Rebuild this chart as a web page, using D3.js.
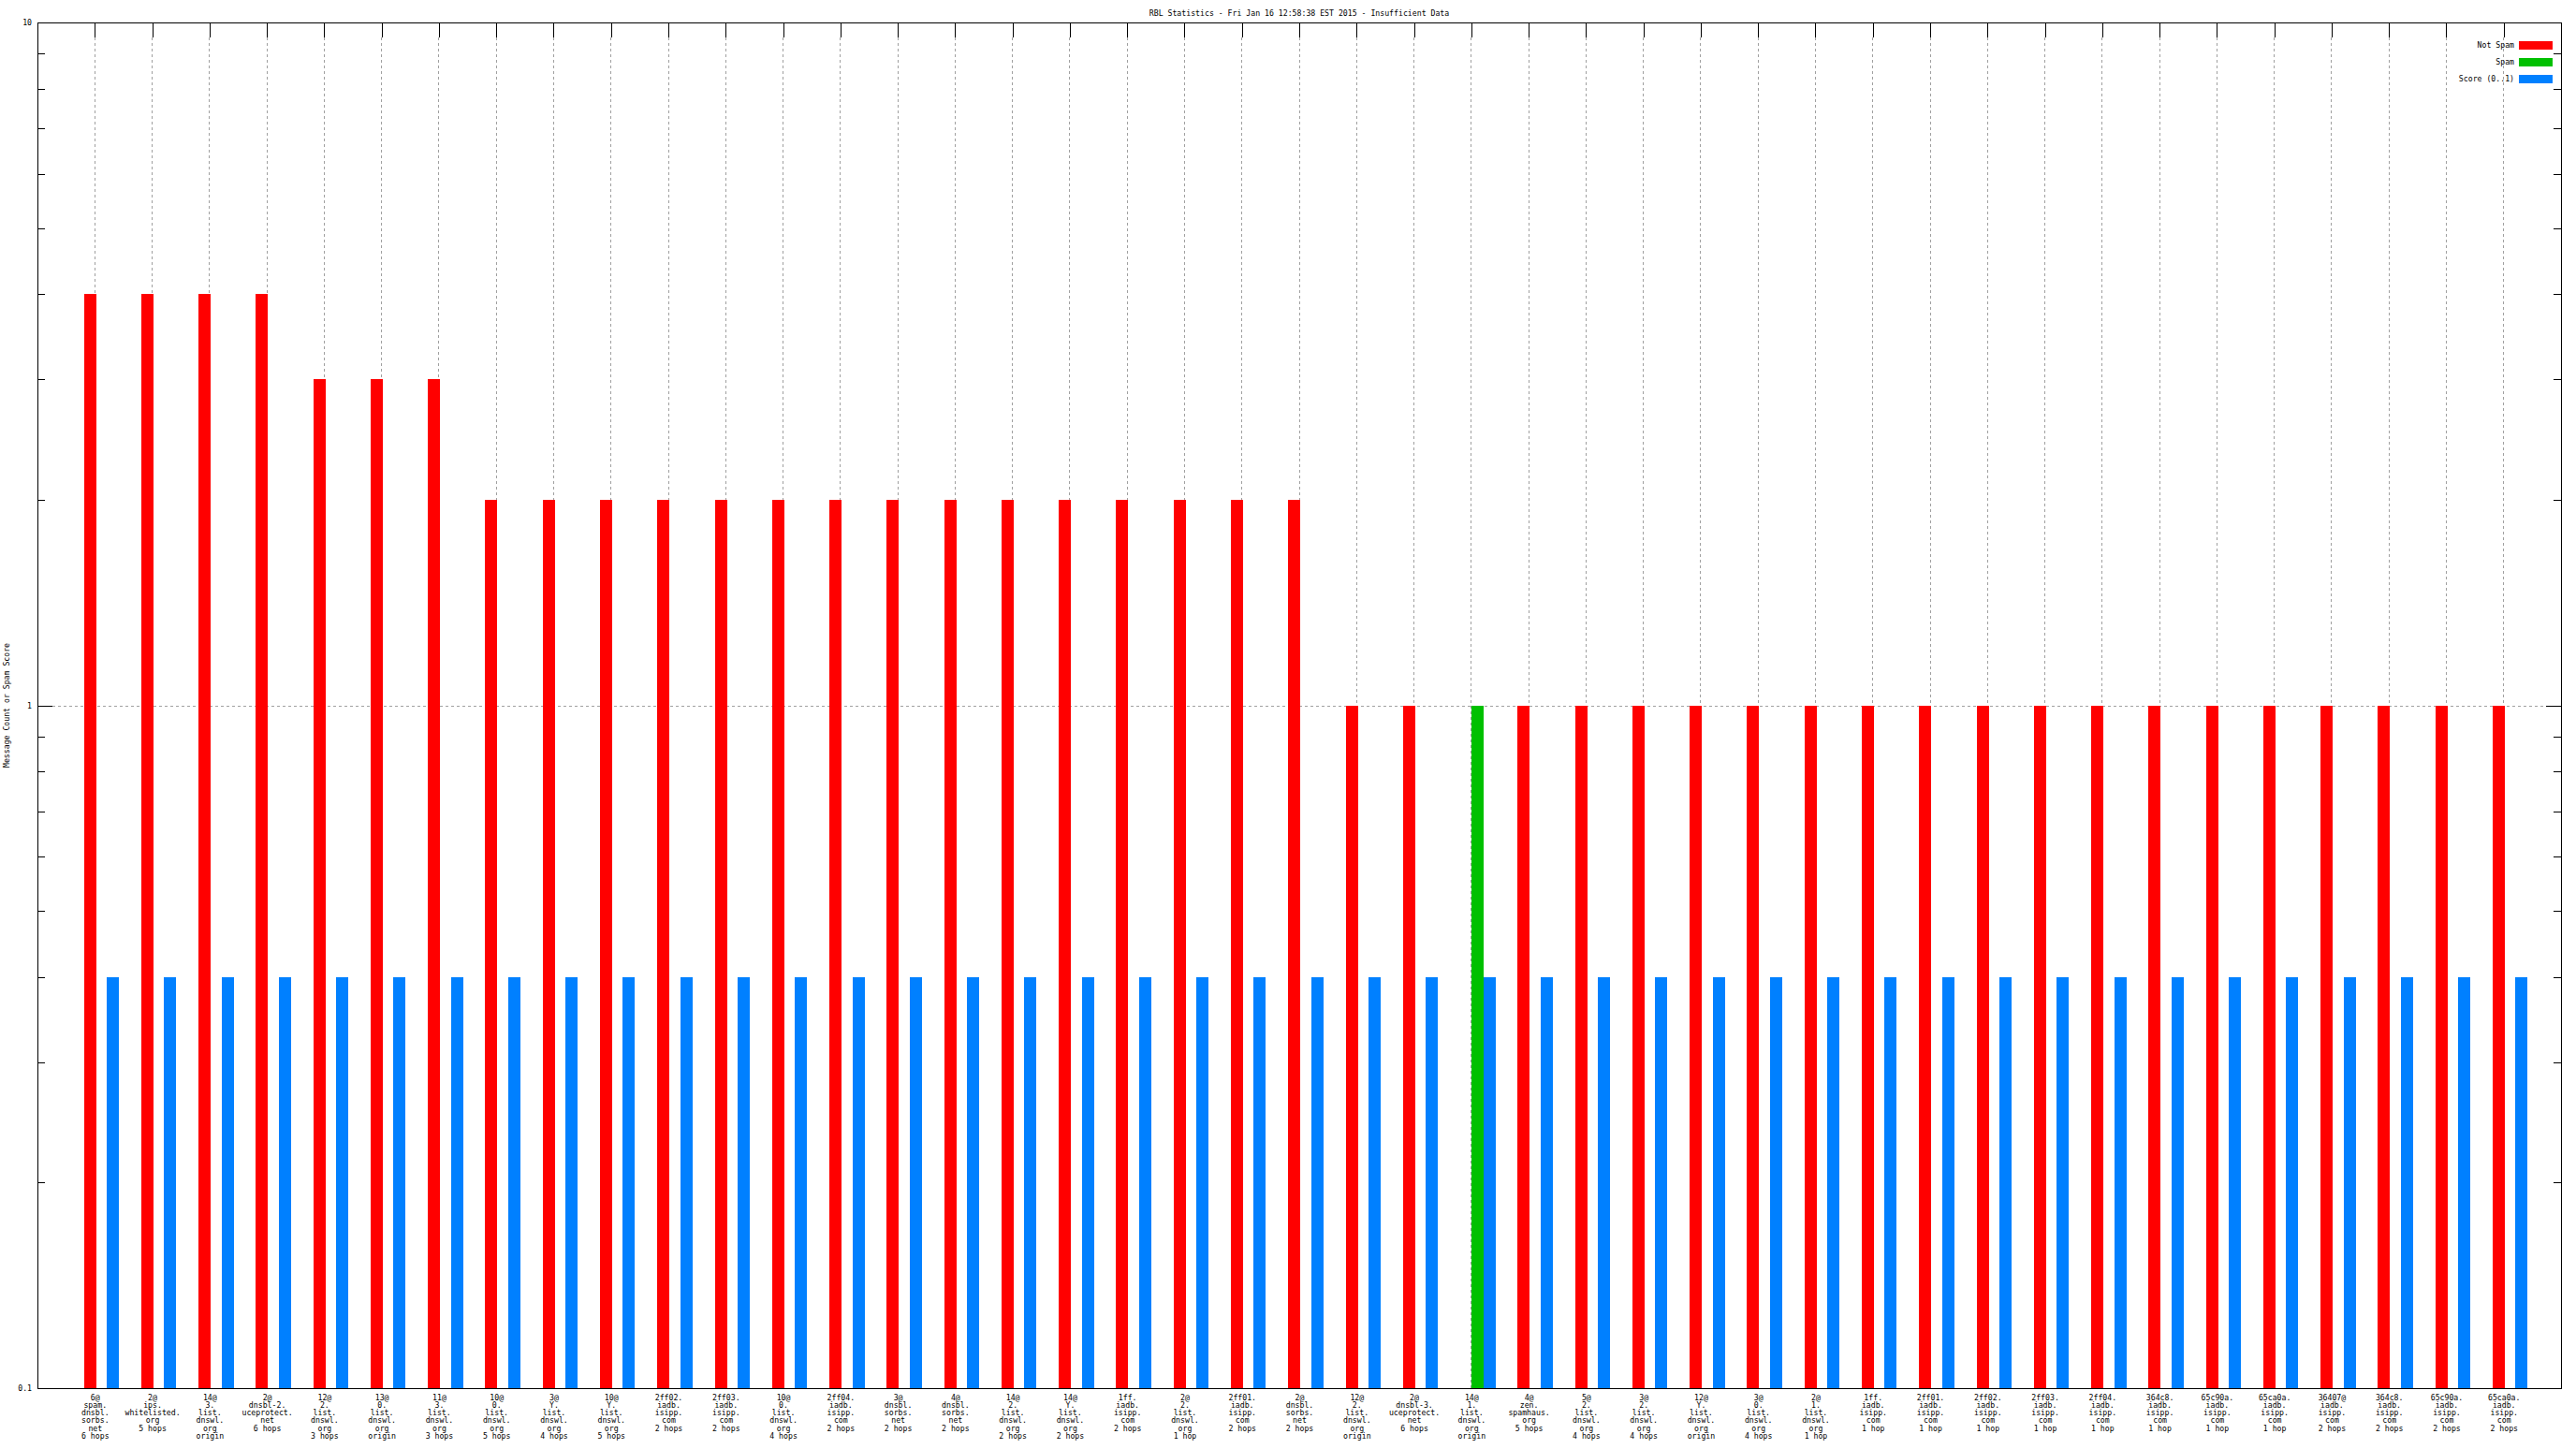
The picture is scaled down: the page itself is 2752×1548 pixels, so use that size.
<!DOCTYPE html>
<html><head><meta charset="utf-8">
<script src="https://cdn.jsdelivr.net/npm/d3@7/dist/d3.min.js"></script>
<style>
body{margin:0;background:#fff}
svg{display:block}
text{font-family:"DejaVu Sans Mono","Liberation Mono",monospace;font-size:8.2px;fill:#000}
</style>
</head><body>
<svg id="c" width="2752" height="1548"></svg>
<script>
const categories = [
 "6@\nspam.\ndnsbl.\nsorbs.\nnet\n6 hops",
 "2@\nips.\nwhitelisted.\norg\n5 hops",
 "14@\n3.\nlist.\ndnswl.\norg\norigin",
 "2@\ndnsbl-2.\nuceprotect.\nnet\n6 hops",
 "12@\n2.\nlist.\ndnswl.\norg\n3 hops",
 "13@\n0.\nlist.\ndnswl.\norg\norigin",
 "11@\n3.\nlist.\ndnswl.\norg\n3 hops",
 "10@\n0.\nlist.\ndnswl.\norg\n5 hops",
 "3@\nY.\nlist.\ndnswl.\norg\n4 hops",
 "10@\nY.\nlist.\ndnswl.\norg\n5 hops",
 "2ff02.\niadb.\nisipp.\ncom\n2 hops",
 "2ff03.\niadb.\nisipp.\ncom\n2 hops",
 "10@\n0.\nlist.\ndnswl.\norg\n4 hops",
 "2ff04.\niadb.\nisipp.\ncom\n2 hops",
 "3@\ndnsbl.\nsorbs.\nnet\n2 hops",
 "4@\ndnsbl.\nsorbs.\nnet\n2 hops",
 "14@\n2.\nlist.\ndnswl.\norg\n2 hops",
 "14@\nY.\nlist.\ndnswl.\norg\n2 hops",
 "1ff.\niadb.\nisipp.\ncom\n2 hops",
 "2@\n2.\nlist.\ndnswl.\norg\n1 hop",
 "2ff01.\niadb.\nisipp.\ncom\n2 hops",
 "2@\ndnsbl.\nsorbs.\nnet\n2 hops",
 "12@\n2.\nlist.\ndnswl.\norg\norigin",
 "2@\ndnsbl-3.\nuceprotect.\nnet\n6 hops",
 "14@\n1.\nlist.\ndnswl.\norg\norigin",
 "4@\nzen.\nspamhaus.\norg\n5 hops",
 "5@\n2.\nlist.\ndnswl.\norg\n4 hops",
 "3@\n2.\nlist.\ndnswl.\norg\n4 hops",
 "12@\nY.\nlist.\ndnswl.\norg\norigin",
 "3@\n0.\nlist.\ndnswl.\norg\n4 hops",
 "2@\n1.\nlist.\ndnswl.\norg\n1 hop",
 "1ff.\niadb.\nisipp.\ncom\n1 hop",
 "2ff01.\niadb.\nisipp.\ncom\n1 hop",
 "2ff02.\niadb.\nisipp.\ncom\n1 hop",
 "2ff03.\niadb.\nisipp.\ncom\n1 hop",
 "2ff04.\niadb.\nisipp.\ncom\n1 hop",
 "364c8.\niadb.\nisipp.\ncom\n1 hop",
 "65c90a.\niadb.\nisipp.\ncom\n1 hop",
 "65ca0a.\niadb.\nisipp.\ncom\n1 hop",
 "36407@\niadb.\nisipp.\ncom\n2 hops",
 "364c8.\niadb.\nisipp.\ncom\n2 hops",
 "65c90a.\niadb.\nisipp.\ncom\n2 hops",
 "65ca0a.\niadb.\nisipp.\ncom\n2 hops"
];
const notSpam = [4,4,4,4,3,3,3,2,2,2,2,2,2,2,2,2,2,2,2,2,2,2,1,1,0,1,1,1,1,1,1,1,1,1,1,1,1,1,1,1,1,1,1];
const spam    = [0,0,0,0,0,0,0,0,0,0,0,0,0,0,0,0,0,0,0,0,0,0,0,0,1,0,0,0,0,0,0,0,0,0,0,0,0,0,0,0,0,0,0];
const score   = [0.4,0.4,0.4,0.4,0.4,0.4,0.4,0.4,0.4,0.4,0.4,0.4,0.4,0.4,0.4,0.4,0.4,0.4,0.4,0.4,0.4,0.4,0.4,0.4,0.4,0.4,0.4,0.4,0.4,0.4,0.4,0.4,0.4,0.4,0.4,0.4,0.4,0.4,0.4,0.4,0.4,0.4,0.4];
const seriesNames = ["Not Spam","Spam","Score (0..1)"];
const seriesColors = ["#ff0000","#00c000","#0080ff"];
const yMajorTicks = [0.1,1,10];
const yTickLabels = ["0.1","1","10"];
const yMinorTicks = [0.2,0.3,0.4,0.5,0.6,0.7,0.8,0.9,2,3,4,5,6,7,8,9];
const title = "RBL Statistics - Fri Jan 16 12:58:38 EST 2015 - Insufficient Data";
const yLabel = "Message Count or Spam Score";

const L = 40, R = 2736, T = 24, B = 1483;
const svg = d3.select("#c");
const n = categories.length;
const x = d3.scaleLinear().domain([-1, n]).range([L, R]);
const y = d3.scaleLog().domain([0.1, 10]).range([B, T]);
const series = [notSpam, spam, score];
const offsets = [-0.2, 0, 0.2];
const bw = 0.2;

const g = svg.append("g").attr("shape-rendering","crispEdges");

// grid
const grid = g.append("g").attr("stroke","#a0a0a0").attr("stroke-dasharray","3,3").attr("stroke-width",1);
grid.selectAll("line.v").data(d3.range(n)).join("line")
  .attr("x1", i => Math.floor(x(i)) + 0.5).attr("x2", i => Math.floor(x(i)) + 0.5)
  .attr("y1", T + 16).attr("y2", B);
grid.append("line").attr("x1", L + 16).attr("x2", R - 16)
  .attr("y1", Math.round(y(1)) + 0.5).attr("y2", Math.round(y(1)) + 0.5);

// axes (drawn before the bars, like gnuplot)
const ax = svg.append("g").attr("shape-rendering","crispEdges");
const left = ax.append("g").attr("transform", `translate(${L},0)`)
  .call(d3.axisLeft(y).tickValues(yMajorTicks).tickSize(-16).tickSizeOuter(0).tickPadding(6)
    .tickFormat((d,i) => yTickLabels[i]));
ax.append("g").attr("transform", `translate(${L},0)`)
  .call(d3.axisLeft(y).tickValues(yMinorTicks).tickSize(-8).tickSizeOuter(0).tickFormat(""));
ax.append("g").attr("transform", `translate(${R},0)`)
  .call(d3.axisRight(y).tickValues(yMajorTicks).tickSize(-16).tickSizeOuter(0).tickFormat(""));
ax.append("g").attr("transform", `translate(${R},0)`)
  .call(d3.axisRight(y).tickValues(yMinorTicks).tickSize(-8).tickSizeOuter(0).tickFormat(""));
ax.append("g").attr("transform", `translate(0,${T})`)
  .call(d3.axisTop(x).tickValues(d3.range(n)).tickSize(-16).tickSizeOuter(0).tickFormat(""));
const bottom = ax.append("g").attr("transform", `translate(0,${B})`)
  .call(d3.axisBottom(x).tickValues(d3.range(n)).tickSize(-16).tickSizeOuter(0).tickPadding(0)
    .tickFormat(i => categories[i]));
ax.selectAll(".domain").attr("stroke","#000");
ax.selectAll(".tick line").attr("stroke","#000");
ax.selectAll("text").attr("font-family",null).attr("font-size",null).attr("fill","#000");
left.selectAll(".tick text").attr("dy","0.32em");

bottom.selectAll(".tick text").each(function(i){
  const t = d3.select(this);
  const lines = categories[i].split("\n");
  t.text(null).attr("y", 12.5).attr("dy", null);
  lines.forEach((ln, k) => {
    t.append("tspan").attr("x", 0).attr("dy", k === 0 ? 0 : 8.3).text(ln);
  });
});

ax.append("line").attr("x1", L).attr("x2", R + 1).attr("y1", T + 0.5).attr("y2", T + 0.5).attr("stroke","#000");
ax.append("line").attr("x1", L).attr("x2", R + 1).attr("y1", B + 0.5).attr("y2", B + 0.5).attr("stroke","#000");

// bars
const bars = svg.append("g").attr("shape-rendering","crispEdges");
series.forEach((vals, j) => {
  bars.append("g").attr("fill", seriesColors[j])
   .selectAll("rect").data(vals.map((v,i)=>({v,i})).filter(d => d.v > 0)).join("rect")
   .attr("x", d => Math.round(x(d.i + offsets[j]) + 0.5))
   .attr("width", d => Math.round(x(d.i + offsets[j] + bw) - x(d.i + offsets[j])) + 1)
   .attr("y", d => Math.round(y(d.v)))
   .attr("height", d => B - Math.round(y(d.v)));
});

// title
svg.append("text").attr("x", (L + R) / 2).attr("y", 17).attr("text-anchor","middle").text(title);

// y label
svg.append("text").attr("transform", `translate(10,${(T + B) / 2}) rotate(-90)`)
  .attr("text-anchor","middle").text(yLabel);

// legend
const leg = svg.append("g").attr("shape-rendering","crispEdges");
seriesNames.forEach((name, j) => {
  const cy = 48 + j * 18;
  leg.append("text").attr("x", 2686).attr("y", cy).attr("dy","0.35em").attr("text-anchor","end").text(name);
  leg.append("rect").attr("x", 2691).attr("y", cy - 4).attr("width", 36).attr("height", 9).attr("fill", seriesColors[j]);
});
</script>
</body></html>
